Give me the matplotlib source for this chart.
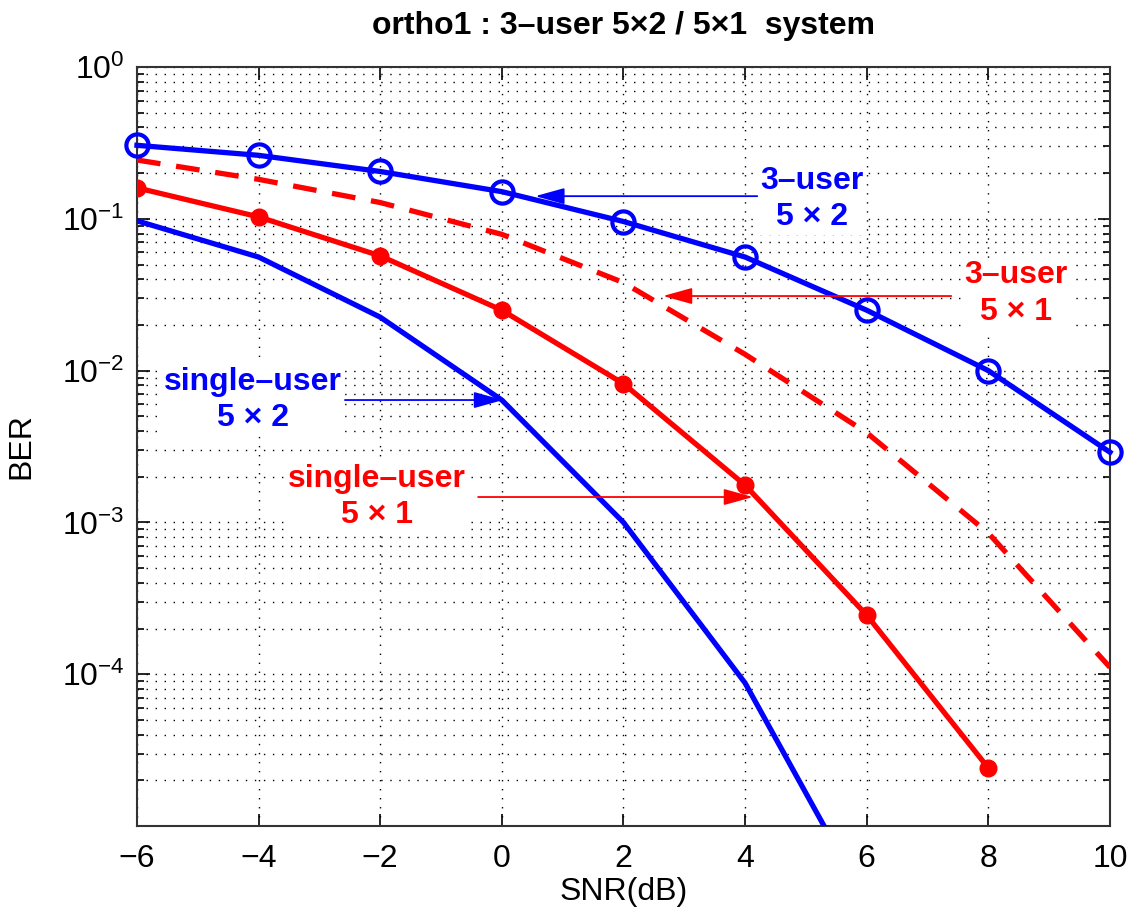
import matplotlib
matplotlib.use('Agg')
import matplotlib.pyplot as plt
import numpy as np
from matplotlib import font_manager

# fonts: narrow helvetica-like if we have it
names = {f.name for f in font_manager.fontManager.ttflist}
fam = ['Liberation Sans Narrow'] if 'Liberation Sans Narrow' in names else ['Liberation Sans']
plt.rcParams['font.family'] = fam + ['DejaVu Sans']
plt.rcParams['mathtext.default'] = 'regular'

snr = [-6, -4, -2, 0, 2, 4, 6, 8, 10]

# 3-user 5x2 (blue, circles)
ber_3u_5x2 = [0.305, 0.262, 0.205, 0.151, 0.096, 0.056, 0.025, 0.0100, 0.0029]
# 3-user 5x1 (red, dashed)
ber_3u_5x1 = [0.244, 0.182, 0.128, 0.079, 0.038, 0.0128, 0.0039, 0.00085, 0.000111]
# single-user 5x1 (red, dots)
snr_su_5x1 = [-6, -4, -2, 0, 2, 4, 6, 8]
ber_su_5x1 = [0.160, 0.103, 0.057, 0.025, 0.0082, 0.00176, 0.000245, 0.0000241]
# single-user 5x2 (blue, plain)
snr_su_5x2 = [-6, -4, -2, 0, 2, 4, 6]
ber_su_5x2 = [0.097, 0.056, 0.0225, 0.0064, 0.0010, 0.0000875, 0.0000031]

fig = plt.figure(figsize=(11.31, 9.18), dpi=100)
ax = fig.add_axes([0.1211, 0.1002, 0.8603, 0.8268])

ax.plot(snr_su_5x2, ber_su_5x2, color='#0000ff', lw=3.8, zorder=3)
ax.plot(snr, ber_3u_5x1, color='#ff0000', lw=3.8, dashes=(4.5, 3), zorder=3)
ax.plot(snr_su_5x1, ber_su_5x1, color='#ff0000', lw=3.8, marker='o', ms=12,
        mfc='#ff0000', mec='#ff0000', zorder=4)
ax.plot(snr, ber_3u_5x2, color='#0000ff', lw=3.8, marker='o', ms=16,
        mfc='none', mec='#0000ff', mew=3, zorder=4, clip_on=False)

ax.set_yscale('log')
ax.set_xlim(-6, 10)
ax.set_ylim(1e-5, 1)
ax.set_xticks(range(-6, 11, 2))
ax.set_xticklabels(['\u2212%d' % -v if v < 0 else '%d' % v for v in range(-6, 11, 2)])
ax.set_yticks([1, 1e-1, 1e-2, 1e-3, 1e-4])
ax.set_yticklabels(['$10^{0}$', '$10^{-1}$', '$10^{-2}$', '$10^{-3}$', '$10^{-4}$'])
ax.yaxis.set_minor_locator(matplotlib.ticker.LogLocator(base=10, subs=np.arange(2, 10), numticks=20))
ax.yaxis.set_minor_formatter(matplotlib.ticker.NullFormatter())

ax.tick_params(which='both', direction='in', top=True, right=True, labelsize=23, width=1.2)
ax.tick_params(which='major', length=9)
ax.tick_params(axis='x', which='major', pad=13)
ax.tick_params(axis='y', which='major', pad=9)
ax.tick_params(which='minor', length=5)
ax.grid(True, which='major', axis='both', color='black', lw=1.0, ls=(0, (1, 5.5)))
ax.grid(True, which='minor', axis='y', color='black', lw=1.0, ls=(0, (1, 5.5)))
for s in ax.spines.values():
    s.set_linewidth(1.5)
    s.set_color('#333333')

ax.set_xlabel('SNR(dB)', fontsize=23, labelpad=2)
ax.set_ylabel('BER', fontsize=23, labelpad=18)
ax.set_title('ortho1 : 3\u2013user 5\u00d72 / 5\u00d71  system', fontsize=23, fontweight='bold', pad=24)

box = dict(facecolor='white', edgecolor='none', pad=2)
arr = dict(arrowstyle='-|>,head_length=1.8,head_width=0.5', lw=1.3, shrinkA=0, shrinkB=0)
tkw = dict(fontsize=23, fontweight='bold', ha='center', va='center', linespacing=1.3,
           bbox=box, zorder=2.5)

ax.annotate('', xy=(0.55, 0.141), xytext=(4.2, 0.141), arrowprops=dict(arr, color='#0000ff'), zorder=5)
ax.text(5.1, 0.135, '3\u2013user\n5 \u00d7 2', color='#0000ff', **tkw)

ax.annotate('', xy=(2.65, 0.031), xytext=(7.39, 0.031), arrowprops=dict(arr, color='#ff0000'), zorder=5)
ax.text(8.45, 0.032, '3\u2013user\n5 \u00d7 1', color='#ff0000', **tkw)

ax.annotate('', xy=(0.02, 0.0064), xytext=(-2.58, 0.0064), arrowprops=dict(arr, color='#0000ff'), zorder=5)
ax.text(-4.1, 0.0064, 'single\u2013user\n5 \u00d7 2', color='#0000ff', **tkw)

ax.annotate('', xy=(4.13, 0.00147), xytext=(-0.39, 0.00147), arrowprops=dict(arr, color='#ff0000'), zorder=5)
ax.text(-2.05, 0.00147, 'single\u2013user\n5 \u00d7 1', color='#ff0000', **tkw)

fig.savefig('out.png', dpi=100)
